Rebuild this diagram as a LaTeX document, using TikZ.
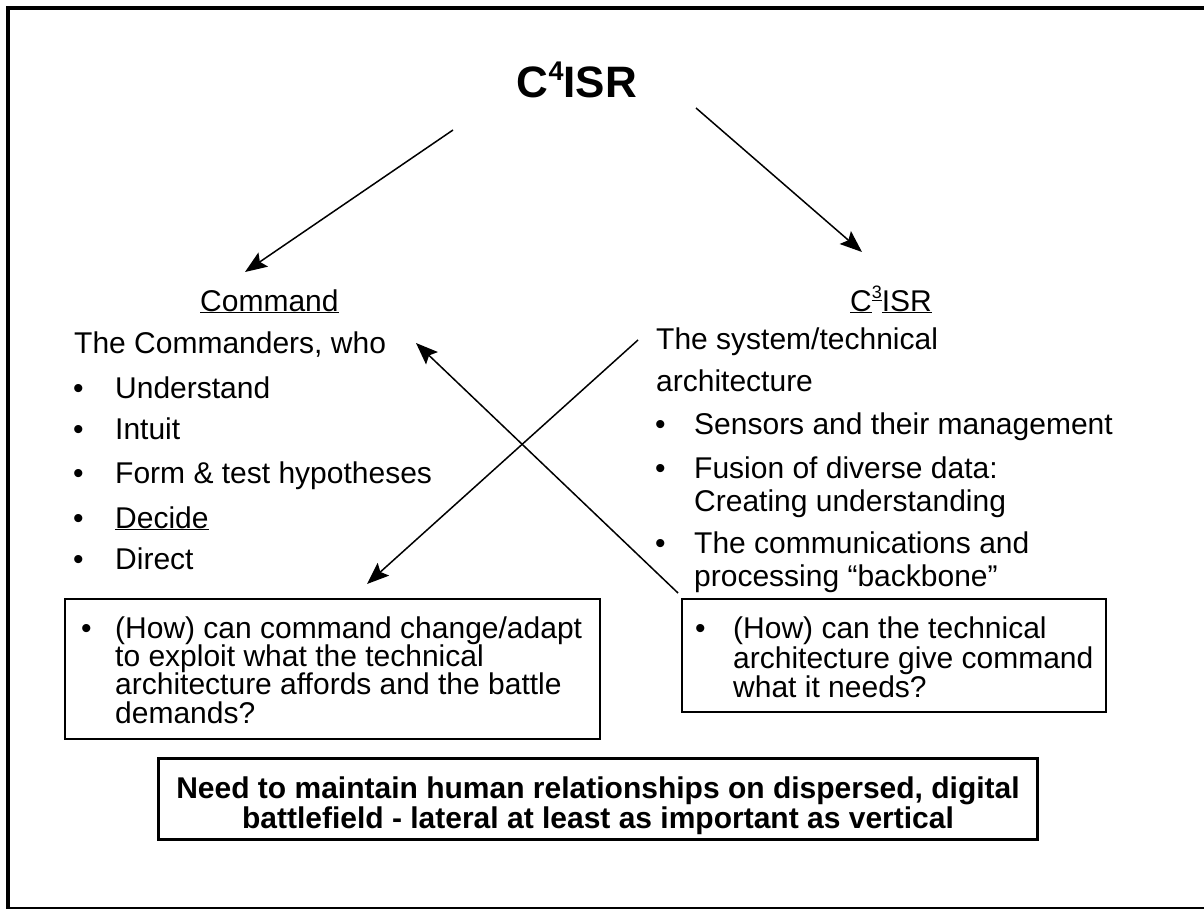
\documentclass[tikz,border=0pt]{standalone}
\usepackage{fontspec}
\setmainfont{Liberation Sans}
\usetikzlibrary{arrows.meta}
\begin{document}
\begin{tikzpicture}[x=1pt,y=-1pt,
  txt/.style={anchor=base west, inner sep=0pt, font=\fontsize{30}{30}\selectfont},
  bul/.style={anchor=base west, inner sep=0pt, font=\fontsize{30}{30}\selectfont},
  arr/.style={-{Stealth[length=22pt,width=17pt,inset=4pt]}, line width=1.5pt},
  qbox/.style={draw, line width=1.5pt, inner sep=0pt, anchor=north west},
  frameline/.style={line width=4pt}]
\useasboundingbox (0,0) rectangle (1204,909);
% frame
\draw[frameline] (8,909) -- (8,8) -- (1204,8);
\draw[line width=1.5pt] (8,908.2) -- (1204,908.2);
% title
\node[anchor=base, inner sep=0pt, font=\fontsize{44}{44}\selectfont\bfseries] (title) at (577,98)
  {C\raisebox{0.40em}{\fontsize{27}{27}\selectfont 4}ISR};
% left column
\node[txt] (cmd) at (200,311) {\underline{Command}};
\node[txt] (cmdr) at (74,353) {The Commanders, who};
\node[bul] (b1) at (73,398) {•}; \node[txt] (l1) at (115,398) {Understand};
\node[bul] (b2) at (73,439) {•}; \node[txt] (l2) at (115,439) {Intuit};
\node[bul] (b3) at (73,483) {•}; \node[txt] (l3) at (115,483) {Form \& test hypotheses};
\node[bul] (b4) at (73,528) {•}; \node[txt] (l4) at (115,528) {\underline{Decide}};
\node[bul] (b5) at (73,569) {•}; \node[txt] (l5) at (115,569) {Direct};
% right column
\node[txt] (c3) at (850,311) {\underline{C}\raisebox{0.42em}{\fontsize{18}{18}\selectfont\underline{3}}\underline{ISR}};
\node[txt] (sys1) at (656,349) {The system/technical};
\node[txt] (sys2) at (656,391) {architecture};
\node[bul] (rb1) at (655,434) {•}; \node[txt] (r1) at (694,434) {Sensors and their management};
\node[bul] (rb2) at (655,478) {•}; \node[txt] (r2a) at (694,478) {Fusion of diverse data:};
\node[txt] (r2b) at (694,511) {Creating understanding};
\node[bul] (rb3) at (655,553) {•}; \node[txt] (r3a) at (694,553) {The communications and};
\node[txt] (r3b) at (694,586) {processing “backbone”};
% left question box
\node[qbox, minimum width=535pt, minimum height=140pt] (lbox) at (64,598) {};
\node[bul] (lqb) at (81,638) {•};
\node[txt] (lq1) at (115,638) {(How) can command change/adapt};
\node[txt] (lq2) at (115,666) {to exploit what the technical};
\node[txt] (lq3) at (115,694) {architecture affords and the battle};
\node[txt] (lq4) at (115,723) {demands?};
% right question box
\node[qbox, minimum width=424pt, minimum height=113pt] (rbox) at (681,598) {};
\node[bul] (rqb) at (695,638) {•};
\node[txt] (rq1) at (733,638) {(How) can the technical};
\node[txt] (rq2) at (733,668) {architecture give command};
\node[txt] (rq3) at (733,697) {what it needs?};
% bottom box
\node[qbox, line width=2.5pt, minimum width=879pt, minimum height=81pt] (bbox) at (157,757) {};
\node[anchor=base, inner sep=0pt, font=\fontsize{30}{30}\selectfont\bfseries] (n1) at (598,798)
  {Need to maintain human relationships on dispersed, digital};
\node[anchor=base, inner sep=0pt, font=\fontsize{30}{30}\selectfont\bfseries] (n2) at (598,828)
  {battlefield - lateral at least as important as vertical};
% arrows
\coordinate (a1s) at (453,130); \coordinate (a1e) at (245,272);
\coordinate (a2s) at (696,108); \coordinate (a2e) at (862,252);
\coordinate (a3s) at (638,340); \coordinate (a3e) at (367,584);
\coordinate (a4s) at (678,593); \coordinate (a4e) at (416,343);
\draw[arr] (a1s) -- (a1e);
\draw[arr] (a2s) -- (a2e);
\draw[arr] (a3s) -- (a3e);
\draw[arr] (a4s) -- (a4e);
\end{tikzpicture}
\end{document}
